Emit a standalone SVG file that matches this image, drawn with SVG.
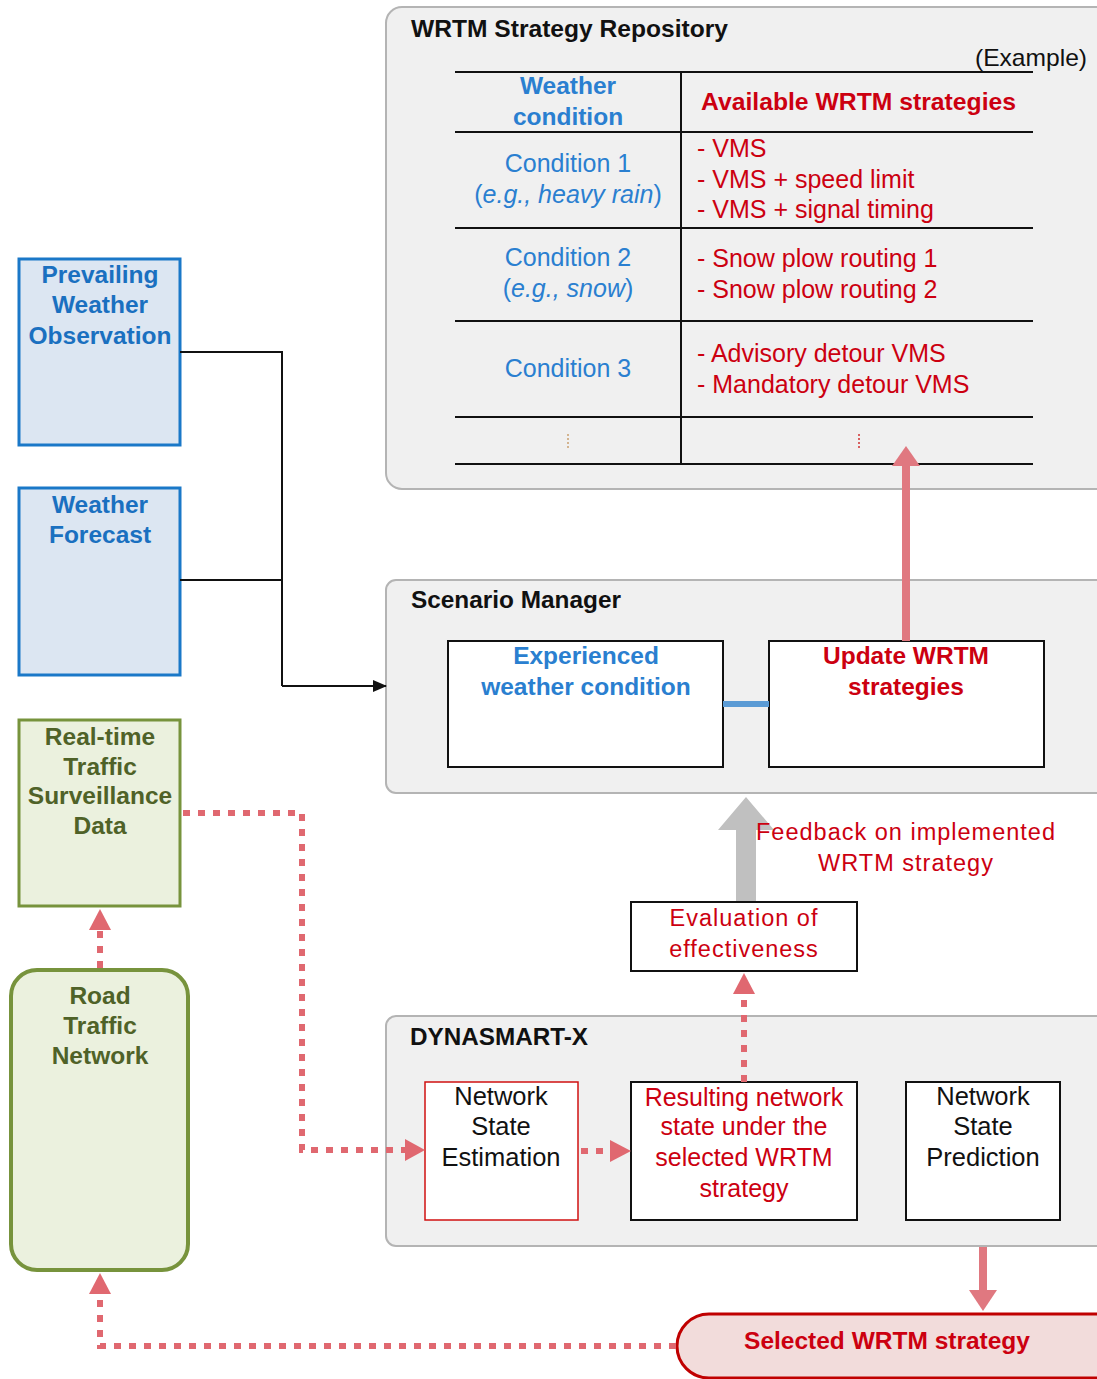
<svg xmlns="http://www.w3.org/2000/svg" width="1097" height="1379" viewBox="0 0 1097 1379">
  <defs>
    <style>
      .txt { font-family: "Liberation Sans", Arial, sans-serif; }
      .container { fill: #f0f0f0; stroke: #b4b4b4; stroke-width: 2; }
      .title { font-size: 24px; font-weight: bold; fill: #111; }
      .box { fill: #ffffff; stroke: #111; stroke-width: 2; }
      .blue { fill: #2a7fd0; }
      .red { fill: #cc0010; }
      .rule { stroke: #111; stroke-width: 2; }
      .wx { fill: #dce6f2; stroke: #1a78c8; stroke-width: 3; }
      .wxt { font-size: 24.5px; font-weight: bold; fill: #1a70c0; }
      .green { fill: #ebf1de; stroke: #77933c; }
      .greent { font-size: 24.5px; font-weight: bold; fill: #4f6228; }
      .dot { fill: none; stroke: #e06870; stroke-width: 6; stroke-dasharray: 7 8; }
    </style>
    <marker id="blackHead" markerWidth="14" markerHeight="12" refX="13" refY="6" orient="auto" markerUnits="userSpaceOnUse">
      <path d="M0,0 L14,6 L0,12 Z" fill="#111"/>
    </marker>
  </defs>

  <!-- WRTM Strategy Repository -->
  <g id="repository">
    <rect class="container" x="386" y="7" width="730" height="482" rx="16"/>
    <text class="txt title" x="411" y="37" textLength="317" lengthAdjust="spacingAndGlyphs">WRTM Strategy Repository</text>
    <text class="txt" x="975" y="66" font-size="24" fill="#111" textLength="112" lengthAdjust="spacingAndGlyphs">(Example)</text>
    <line class="rule" x1="455" y1="72" x2="1033" y2="72"/>
    <line class="rule" x1="455" y1="132" x2="1033" y2="132"/>
    <line class="rule" x1="455" y1="228" x2="1033" y2="228"/>
    <line class="rule" x1="455" y1="321" x2="1033" y2="321"/>
    <line class="rule" x1="455" y1="417" x2="1033" y2="417"/>
    <line class="rule" x1="455" y1="464" x2="1033" y2="464"/>
    <line class="rule" x1="681" y1="72" x2="681" y2="464"/>
    <g class="txt" font-size="25" text-anchor="middle">
      <text class="blue" x="568" y="94" font-size="24.5" font-weight="bold">Weather</text>
      <text class="blue" x="568" y="125" font-size="24.5" font-weight="bold">condition</text>
      <text class="blue" x="568" y="172">Condition 1</text>
      <text class="blue" x="568" y="203">(<tspan font-style="italic">e.g., heavy rain</tspan>)</text>
      <text class="blue" x="568" y="266">Condition 2</text>
      <text class="blue" x="568" y="297">(<tspan font-style="italic">e.g., snow</tspan>)</text>
      <text class="blue" x="568" y="377">Condition 3</text>
    </g>
    <g class="txt red" font-size="25">
      <text x="701" y="110" font-size="24.5" font-weight="bold" textLength="315" lengthAdjust="spacingAndGlyphs">Available WRTM strategies</text>
      <text x="697" y="157">- VMS</text>
      <text x="697" y="188">- VMS + speed limit</text>
      <text x="697" y="218">- VMS + signal timing</text>
      <text x="697" y="267">- Snow plow routing 1</text>
      <text x="697" y="298">- Snow plow routing 2</text>
      <text x="697" y="362">- Advisory detour VMS</text>
      <text x="697" y="393">- Mandatory detour VMS</text>
    </g>
    <line x1="568" y1="434" x2="568" y2="449" stroke="#c9a070" stroke-width="1.5" stroke-dasharray="2 2"/>
    <line x1="859" y1="434" x2="859" y2="449" stroke="#d03030" stroke-width="1.5" stroke-dasharray="2 2"/>
  </g>

  <!-- Weather inputs -->
  <g id="weather-observation">
    <rect class="wx" x="19" y="259" width="161" height="186"/>
    <g class="txt wxt" text-anchor="middle">
      <text x="100" y="283">Prevailing</text>
      <text x="100" y="313">Weather</text>
      <text x="100" y="344">Observation</text>
    </g>
  </g>
  <g id="weather-forecast">
    <rect class="wx" x="19" y="488" width="161" height="187"/>
    <g class="txt wxt" text-anchor="middle">
      <text x="100" y="513">Weather</text>
      <text x="100" y="543">Forecast</text>
    </g>
  </g>

  <!-- Scenario Manager -->
  <g id="scenario-manager">
    <rect class="container" x="386" y="580" width="730" height="213" rx="10"/>
    <text class="txt title" x="411" y="608" textLength="210" lengthAdjust="spacingAndGlyphs">Scenario Manager</text>
  </g>
  <g id="experienced-weather">
    <rect class="box" x="448" y="641" width="275" height="126"/>
    <g class="txt blue" font-size="24.5" font-weight="bold" text-anchor="middle">
      <text x="586" y="664">Experienced</text>
      <text x="586" y="695">weather condition</text>
    </g>
  </g>
  <g id="update-strategies">
    <rect class="box" x="769" y="641" width="275" height="126"/>
    <g class="txt red" font-size="24.5" font-weight="bold" text-anchor="middle">
      <text x="906" y="664">Update WRTM</text>
      <text x="906" y="695">strategies</text>
    </g>
  </g>

  <!-- Real-time traffic data and road network -->
  <g id="surveillance-data">
    <rect class="green" x="19" y="720" width="161" height="186" stroke-width="3"/>
    <g class="txt greent" text-anchor="middle">
      <text x="100" y="745">Real-time</text>
      <text x="100" y="775">Traffic</text>
      <text x="100" y="804">Surveillance</text>
      <text x="100" y="834">Data</text>
    </g>
  </g>
  <g id="road-network">
    <rect class="green" x="11" y="970" width="177" height="300" rx="26" stroke-width="4"/>
    <g class="txt greent" text-anchor="middle">
      <text x="100" y="1004">Road</text>
      <text x="100" y="1034">Traffic</text>
      <text x="100" y="1064">Network</text>
    </g>
  </g>

  <!-- Evaluation -->
  <g id="evaluation">
    <rect class="box" x="631" y="902" width="226" height="69"/>
    <g class="txt red" font-size="23.5" text-anchor="middle" letter-spacing="1">
      <text x="744" y="926">Evaluation of</text>
      <text x="744" y="957">effectiveness</text>
    </g>
  </g>

  <!-- DYNASMART-X -->
  <g id="dynasmart-x">
    <rect class="container" x="386" y="1016" width="730" height="230" rx="10"/>
    <text class="txt title" x="410" y="1045" textLength="178" lengthAdjust="spacingAndGlyphs">DYNASMART-X</text>
  </g>
  <g id="state-estimation">
    <rect x="425" y="1082" width="153" height="138" fill="#fff" stroke="#d01010" stroke-width="1.5"/>
    <g class="txt" font-size="25.5" fill="#111" text-anchor="middle">
      <text x="501" y="1105">Network</text>
      <text x="501" y="1135">State</text>
      <text x="501" y="1166">Estimation</text>
    </g>
  </g>
  <g id="resulting-state">
    <rect class="box" x="631" y="1082" width="226" height="138"/>
    <g class="txt red" font-size="25" text-anchor="middle">
      <text x="744" y="1106">Resulting network</text>
      <text x="744" y="1135">state under the</text>
      <text x="744" y="1166">selected WRTM</text>
      <text x="744" y="1197">strategy</text>
    </g>
  </g>
  <g id="state-prediction">
    <rect class="box" x="906" y="1082" width="154" height="138"/>
    <g class="txt" font-size="25.5" fill="#111" text-anchor="middle">
      <text x="983" y="1105">Network</text>
      <text x="983" y="1135">State</text>
      <text x="983" y="1166">Prediction</text>
    </g>
  </g>

  <!-- Selected strategy -->
  <g id="selected-strategy">
    <rect x="677" y="1314" width="450" height="64" rx="32" fill="#f2dcdb" stroke="#c00000" stroke-width="3"/>
    <text class="txt red" x="887" y="1349" font-size="24.5" font-weight="bold" text-anchor="middle">Selected WRTM strategy</text>
  </g>

  <!-- Connectors -->
  <g id="connectors">
    <!-- weather inputs into scenario manager -->
    <polyline points="180,352 282,352 282,686" fill="none" stroke="#111" stroke-width="2"/>
    <polyline points="180,580 282,580" fill="none" stroke="#111" stroke-width="2"/>
    <polyline points="282,686 386,686" fill="none" stroke="#111" stroke-width="2" marker-end="url(#blackHead)"/>

    <!-- link between experienced weather and update box -->
    <line x1="723" y1="704" x2="769" y2="704" stroke="#5b9bd5" stroke-width="6"/>

    <!-- update strategies to repository -->
    <line x1="906" y1="641" x2="906" y2="464" stroke="#e07880" stroke-width="8"/>
    <path d="M892,466 L906,446 L920,466 Z" fill="#e07880"/>

    <!-- feedback arrow -->
    <path d="M736,901 L736,830 L718,830 L746,797 L774,830 L756,830 L756,901 Z" fill="#c0c0c0"/>
    <g class="txt red" font-size="23.5" text-anchor="middle" letter-spacing="1">
      <text x="906" y="840">Feedback on implemented</text>
      <text x="906" y="871">WRTM strategy</text>
    </g>

    <!-- resulting state to evaluation -->
    <line class="dot" x1="744" y1="1082" x2="744" y2="993"/>
    <path d="M733,994 L744,973 L755,994 Z" fill="#e06870"/>

    <!-- surveillance data to state estimation -->
    <polyline class="dot" points="183,813 302,813 302,1150 405,1150"/>
    <path d="M405,1139 L425,1150 L405,1161 Z" fill="#e06870"/>

    <!-- estimation to resulting state -->
    <line class="dot" x1="581" y1="1151" x2="611" y2="1151"/>
    <path d="M610,1140 L631,1151 L610,1162 Z" fill="#e06870"/>

    <!-- road network to surveillance data -->
    <line class="dot" x1="100" y1="968" x2="100" y2="929"/>
    <path d="M89,930 L100,909 L111,930 Z" fill="#e06870"/>

    <!-- selected strategy back to road network -->
    <polyline class="dot" points="676,1346 100,1346 100,1294"/>
    <path d="M89,1294 L100,1273 L111,1294 Z" fill="#e06870"/>

    <!-- dynasmart to selected strategy -->
    <line x1="983" y1="1247" x2="983" y2="1292" stroke="#e07880" stroke-width="8"/>
    <path d="M969,1290 L983,1311 L997,1290 Z" fill="#e07880"/>
  </g>
</svg>
